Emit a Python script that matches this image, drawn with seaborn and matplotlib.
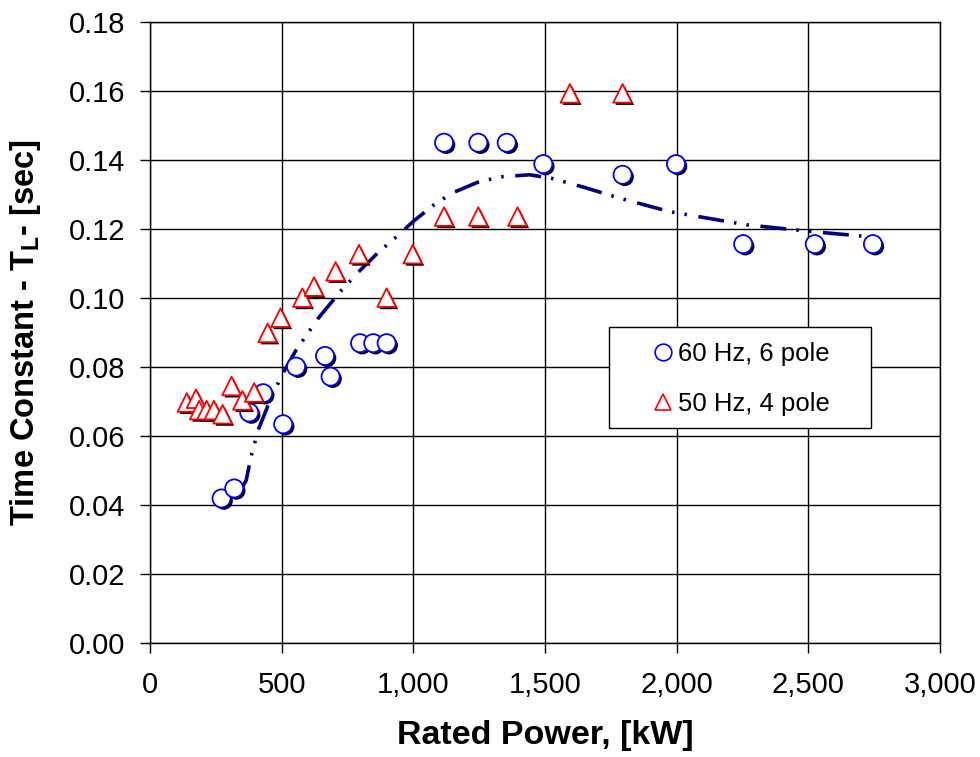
import pandas as pd
import matplotlib
matplotlib.use("Agg")
import matplotlib.pyplot as plt
import matplotlib.patheffects as pe
from matplotlib.lines import Line2D
from matplotlib.patches import Rectangle
from matplotlib.ticker import StrMethodFormatter, MultipleLocator
import seaborn as sns

# 60 Hz, 6 pole machines
p60_kw = [272, 320, 377, 430, 506, 555, 665, 686, 798, 848, 899,
          1117, 1247, 1355, 1494, 1795, 1998, 2253, 2525, 2746]
p60_tl = [0.0419, 0.0448, 0.0668, 0.0724, 0.0634, 0.0801, 0.0832, 0.0772,
          0.0869, 0.0869, 0.0869, 0.145, 0.145, 0.145, 0.1388, 0.1357,
          0.1388, 0.1156, 0.1156, 0.1156]

# 50 Hz, 4 pole machines
p50_kw = [140, 175, 187, 215, 243, 276, 310, 351, 396, 447, 496, 579,
          623, 705, 794, 899, 998, 1117, 1247, 1396, 1595, 1795]
p50_tl = [0.0697, 0.0708, 0.0675, 0.0675, 0.0675, 0.0663, 0.0745, 0.0703,
          0.0726, 0.0899, 0.0943, 0.1001, 0.1033, 0.1077, 0.1127, 0.1001,
          0.1127, 0.1236, 0.1236, 0.1236, 0.1593, 0.1593]

# trend curve
curve_kw = [345, 365, 384, 411, 462, 506, 555, 639, 728, 797, 867, 940,
            1000, 1082, 1150, 1250, 1342, 1443, 1525, 1652, 1785, 1975,
            2266, 2519, 2753]
curve_tl = [0.0445, 0.047, 0.054, 0.0617, 0.0714, 0.0783, 0.0849, 0.0941,
            0.1023, 0.1079, 0.1132, 0.118, 0.1222, 0.1272, 0.1305, 0.1337,
            0.1352, 0.1357, 0.1347, 0.132, 0.1289, 0.125, 0.1212, 0.1192,
            0.1176]

label60 = "60 Hz, 6 pole"
label50 = "50 Hz, 4 pole"

sns.set_style("whitegrid", {"grid.color": "black", "axes.edgecolor": "black",
                            "text.color": "black", "axes.labelcolor": "black"})
plt.rcParams["font.family"] = ["Liberation Sans", "DejaVu Sans"]
plt.rcParams["mathtext.fontset"] = "custom"
plt.rcParams["mathtext.rm"] = "Liberation Sans"
plt.rcParams["mathtext.bf"] = "Liberation Sans:bold"

fig, ax = plt.subplots(figsize=(9.8, 7.57), dpi=100)
fig.subplots_adjust(left=0.153, right=0.959, bottom=0.1506, top=0.971)

sns.lineplot(x=curve_kw, y=curve_tl, sort=False, estimator=None, ax=ax,
             color="#000080", linewidth=2.6,
             linestyle=(0, (7.2, 2.8, 0.7, 2.8, 0.7, 3.2)), zorder=2)

shadow = [pe.SimplePatchShadow(offset=(1.6, -1.6), shadow_rgbFace="black", alpha=1.0),
          pe.Normal()]

sns.scatterplot(x=p60_kw, y=p60_tl, ax=ax, marker="o", s=170, color="white",
                edgecolor="blue", linewidth=1.3, zorder=3)
sns.scatterplot(x=p50_kw, y=p50_tl, ax=ax, marker="^", s=180, color="white",
                edgecolor="red", linewidth=1.3, zorder=3)
for coll in ax.collections:
    coll.set_path_effects(shadow)

ax.set_xlim(0, 3000)
ax.set_ylim(0, 0.18)
ax.xaxis.set_major_locator(MultipleLocator(500))
ax.yaxis.set_major_locator(MultipleLocator(0.02))
ax.xaxis.set_major_formatter(StrMethodFormatter("{x:,.0f}"))
ax.yaxis.set_major_formatter(StrMethodFormatter("{x:.2f}"))
ax.grid(True, color="black", linewidth=1)
ax.set_axisbelow(True)
for s in ax.spines.values():
    s.set_color("black")
    s.set_linewidth(1)

ax.tick_params(axis="both", which="major", direction="out", length=7, width=1,
               color="black", labelsize=21, labelcolor="black")
ax.tick_params(axis="y", pad=11, left=True)
ax.tick_params(axis="x", pad=13, bottom=True)

ax.set_xlabel("Rated Power, [kW]", fontsize=24.5, fontweight="bold", color="black")
ax.set_ylabel(r"Time Constant - T$_\mathbf{L}$- [sec]", fontsize=23.5,
              fontweight="bold", color="black")
ax.xaxis.set_label_coords(0.5, -0.124)
ax.yaxis.set_label_coords(-0.135, 0.5)

# legend box
ax.add_patch(Rectangle((0.5814, 0.3462), 0.3321, 0.1631, transform=ax.transAxes,
                       facecolor="white", edgecolor="black", linewidth=1, zorder=4))
handles = [
    Line2D([], [], marker="o", ls="", mfc="white", mec="blue", ms=12, mew=1.2),
    Line2D([], [], marker="^", ls="", mfc="white", mec="red", ms=12, mew=1.2),
]
leg = ax.legend(handles, [label60, label50], loc="center left",
                bbox_to_anchor=(0.633, 0.4251), frameon=False, fontsize=18.5,
                borderpad=0, borderaxespad=0, handlelength=1.0,
                handletextpad=0.1, labelspacing=1.05, labelcolor="black")
leg.set_zorder(5)

fig.savefig("out.png", dpi=100)
